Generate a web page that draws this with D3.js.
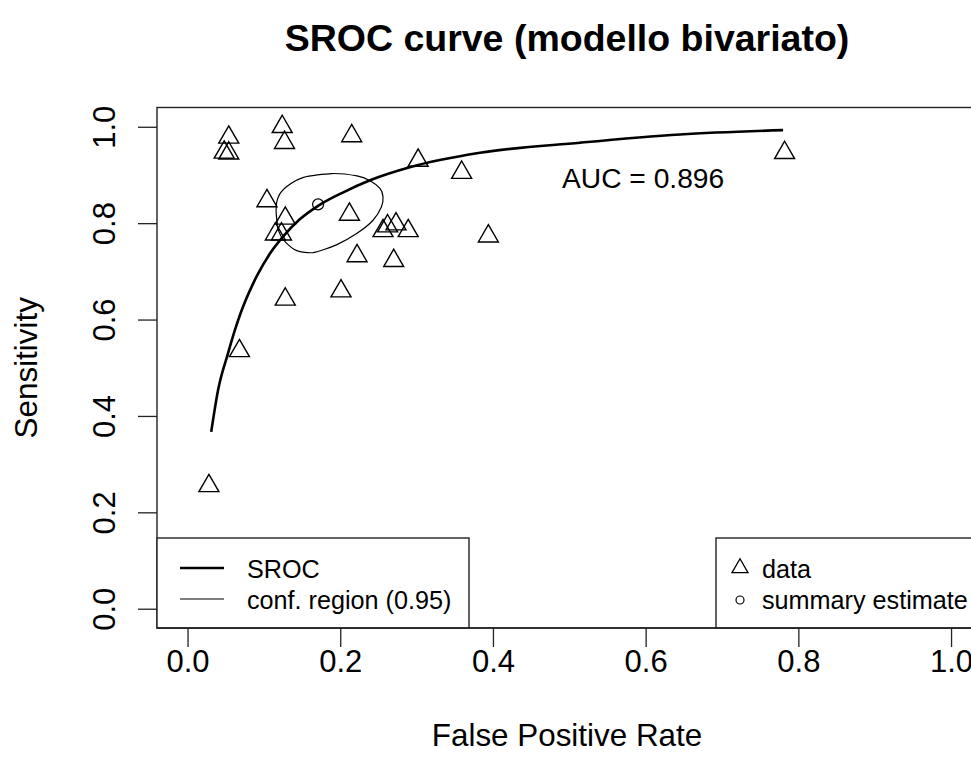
<!DOCTYPE html>
<html>
<head>
<meta charset="utf-8">
<script src="https://cdn.jsdelivr.net/npm/d3@7"></script>
<style>
  html, body { margin: 0; padding: 0; background: #fff; }
  svg { display: block; font-family: "Liberation Sans", Arial, sans-serif; }
</style>
</head>
<body>
<svg id="chart" width="971" height="775"></svg>
<script>
// Study-level estimates (false positive rate, sensitivity)
const studyFpr  = [0.054, 0.048, 0.054, 0.124, 0.127, 0.215, 0.302, 0.359, 0.104, 0.128,
                   0.212, 0.115, 0.123, 0.256, 0.262, 0.273, 0.289, 0.222, 0.270, 0.201,
                   0.128, 0.068, 0.028, 0.782, 0.394];
const studySens = [0.978, 0.947, 0.945, 1.000, 0.967, 0.981, 0.930, 0.905, 0.846, 0.810,
                   0.818, 0.777, 0.777, 0.784, 0.794, 0.798, 0.784, 0.732, 0.722, 0.659,
                   0.642, 0.535, 0.255, 0.946, 0.773];

// Summary estimate of the bivariate model
const summaryFpr  = [0.171];
const summarySens = [0.839];

// SROC curve
const srocFpr  = [0.031, 0.040, 0.053, 0.062, 0.069, 0.086, 0.091, 0.108, 0.125, 0.147,
                  0.171, 0.204, 0.239, 0.291, 0.383, 0.514, 0.645, 0.780];
const srocSens = [0.367, 0.454, 0.530, 0.578, 0.611, 0.675, 0.691, 0.737, 0.772, 0.808,
                  0.836, 0.864, 0.889, 0.916, 0.946, 0.967, 0.984, 0.993];

// 95% confidence region around the summary estimate
const regionFpr  = [0.189, 0.222, 0.239, 0.252, 0.256, 0.254, 0.243, 0.222, 0.195, 0.165,
                    0.143, 0.128, 0.119, 0.116, 0.119, 0.130, 0.152];
const regionSens = [0.903, 0.898, 0.888, 0.872, 0.855, 0.834, 0.806, 0.779, 0.755, 0.739,
                    0.743, 0.761, 0.785, 0.827, 0.855, 0.876, 0.895];

const xTicks = [0, 0.2, 0.4, 0.6, 0.8, 1.0];
const yTicks = [0, 0.2, 0.4, 0.6, 0.8, 1.0];
const aucLabel = "AUC = 0.896";
const titleText = "SROC curve (modello bivariato)";

const svg = d3.select("#chart");

// plot region (R-style 4% padding around [0,1])
const plotLeft = 157, plotTop = 107.5, plotRight = 981.6, plotBottom = 628;
const pad = 0.04;
const x = d3.scaleLinear().domain([-pad, 1 + pad]).range([plotLeft, plotRight]);
const y = d3.scaleLinear().domain([-pad, 1 + pad]).range([plotBottom, plotTop]);

const fmt = d3.format(".1f");

// title
svg.append("text")
  .attr("x", 567).attr("y", 51)
  .attr("text-anchor", "middle")
  .attr("font-weight", "bold")
  .attr("font-size", 37.5)
  .text(titleText);

// axes
const xAxis = svg.append("g").attr("transform", `translate(0,${plotBottom})`)
  .call(d3.axisBottom(x).tickValues(xTicks).tickFormat(fmt).tickSize(19).tickPadding(6).tickSizeOuter(0));
xAxis.select(".domain").remove();
xAxis.selectAll("line").attr("stroke", "#222").attr("stroke-width", 1.3);
xAxis.selectAll("text").attr("font-size", 31).attr("font-family", "Liberation Sans, Arial, sans-serif")
  .attr("fill", "#000").attr("dy", null).attr("y", 44);

const yAxis = svg.append("g").attr("transform", `translate(${plotLeft},0)`)
  .call(d3.axisLeft(y).tickValues(yTicks).tickFormat(fmt).tickSize(19).tickSizeOuter(0));
yAxis.select(".domain").remove();
yAxis.selectAll("line").attr("stroke", "#222").attr("stroke-width", 1.3);
yAxis.selectAll("text")
  .attr("font-size", 31).attr("font-family", "Liberation Sans, Arial, sans-serif")
  .attr("fill", "#000")
  .attr("x", null).attr("dy", null)
  .attr("text-anchor", "middle")
  .attr("transform", "translate(-42,0) rotate(-90)");

// axis titles
svg.append("text")
  .attr("x", 567).attr("y", 746)
  .attr("text-anchor", "middle")
  .attr("font-size", 31.4)
  .text("False Positive Rate");

svg.append("text")
  .attr("transform", `translate(37,${y(0.5)}) rotate(-90)`)
  .attr("text-anchor", "middle")
  .attr("font-size", 31.4)
  .text("Sensitivity");

// plot box
svg.append("rect")
  .attr("x", plotLeft).attr("y", plotTop)
  .attr("width", plotRight - plotLeft).attr("height", plotBottom - plotTop)
  .attr("fill", "none").attr("stroke", "#222").attr("stroke-width", 1.4);

// confidence region
const regionPts = regionFpr.map((f, i) => [x(f), y(regionSens[i])]);
svg.append("path")
  .attr("d", d3.line().curve(d3.curveCardinalClosed.tension(0.3))(regionPts))
  .attr("fill", "none").attr("stroke", "#000").attr("stroke-width", 1.2);

// SROC curve
const srocPts = srocFpr.map((f, i) => [x(f), y(srocSens[i])]);
svg.append("path")
  .attr("d", d3.line().curve(d3.curveMonotoneX)(srocPts))
  .attr("fill", "none").attr("stroke", "#000").attr("stroke-width", 2.6);

// study points
const tri = d3.symbol(d3.symbolTriangle, 173);
svg.append("g").selectAll("path")
  .data(studyFpr.map((f, i) => [f, studySens[i]]))
  .join("path")
  .attr("d", tri)
  .attr("transform", d => `translate(${x(d[0])},${y(d[1])})`)
  .attr("fill", "none").attr("stroke", "#000").attr("stroke-width", 1.4);

// summary estimate
svg.append("g").selectAll("circle")
  .data(summaryFpr.map((f, i) => [f, summarySens[i]]))
  .join("circle")
  .attr("cx", d => x(d[0])).attr("cy", d => y(d[1])).attr("r", 5.5)
  .attr("fill", "none").attr("stroke", "#000").attr("stroke-width", 1.2);

// AUC annotation
svg.append("text")
  .attr("x", 562).attr("y", 187.5)
  .attr("font-size", 28.2)
  .text(aucLabel);

// legend: curves
const legL = svg.append("g");
legL.append("rect").attr("x", plotLeft).attr("y", 538).attr("width", 312).attr("height", plotBottom - 538)
  .attr("fill", "#fff").attr("stroke", "#222").attr("stroke-width", 1.4);
legL.append("line").attr("x1", 180).attr("x2", 224).attr("y1", 568).attr("y2", 568)
  .attr("stroke", "#000").attr("stroke-width", 2.6);
legL.append("line").attr("x1", 180).attr("x2", 224).attr("y1", 599).attr("y2", 599)
  .attr("stroke", "#000").attr("stroke-width", 1.2);
legL.append("text").attr("x", 247).attr("y", 578).attr("font-size", 25.2).text("SROC");
legL.append("text").attr("x", 247).attr("y", 609).attr("font-size", 25.2).text("conf. region (0.95)");

// legend: points
const legR = svg.append("g");
legR.append("rect").attr("x", 716).attr("y", 538).attr("width", 300).attr("height", plotBottom - 538)
  .attr("fill", "#fff").attr("stroke", "#222").attr("stroke-width", 1.4);
legR.append("path").attr("d", d3.symbol(d3.symbolTriangle, 111)())
  .attr("transform", "translate(740,568)")
  .attr("fill", "none").attr("stroke", "#000").attr("stroke-width", 1.3);
legR.append("circle").attr("cx", 740).attr("cy", 600).attr("r", 4)
  .attr("fill", "none").attr("stroke", "#000").attr("stroke-width", 1.2);
legR.append("text").attr("x", 762).attr("y", 578).attr("font-size", 25.2).text("data");
legR.append("text").attr("x", 762).attr("y", 609).attr("font-size", 25.2).text("summary estimate");

// redraw the box bottom so the legend frames stay continuous with it
svg.append("line").attr("x1", plotLeft).attr("x2", plotRight).attr("y1", plotBottom).attr("y2", plotBottom)
  .attr("stroke", "#222").attr("stroke-width", 1.4);
</script>
</body>
</html>
